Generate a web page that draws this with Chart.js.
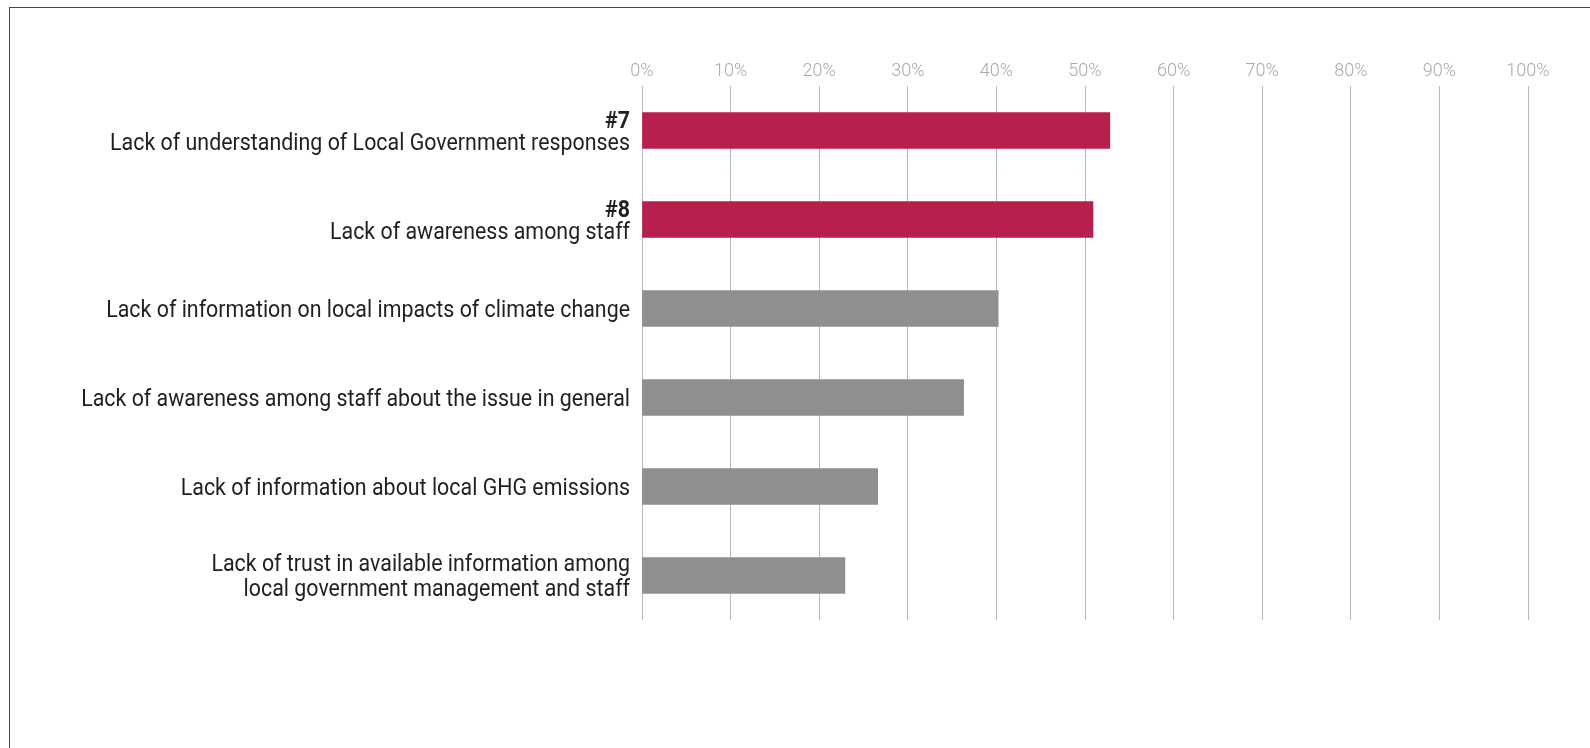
<!DOCTYPE html>
<html>
<head>
<meta charset="utf-8">
<script src="https://cdn.jsdelivr.net/npm/chart.js@4.4.1/dist/chart.umd.min.js"></script>
<style>
  html, body { margin: 0; padding: 0; background: #fff; overflow: hidden; }
  #wrap { position: relative; width: 1590px; height: 748px; }
  #frame { position: absolute; left: 9px; top: 7px; width: 1700px; height: 900px;
           border-left: 1.5px solid #444; border-top: 1.5px solid #444; }
  #chart { position: absolute; left: 0; top: 0; }
</style>
</head>
<body>
<div id="wrap">
  <div id="frame"></div>
  <canvas id="chart" width="1590" height="748"></canvas>
</div>
<script>
var categories = [
    ['Lack of understanding of Local Government responses'],
    ['Lack of awareness among staff'],
    ['Lack of information on local impacts of climate change'],
    ['Lack of awareness among staff about the issue in general'],
    ['Lack of information about local GHG emissions'],
    ['Lack of trust in available information among', 'local government management and staff']
];
var ranks = ['#7', '#8', '', '', '', ''];
var values = [52.8, 50.9, 40.2, 36.3, 26.6, 22.9];
var highlighted = [true, true, false, false, false, false];

var RED = '#b71f4c';
var GREY = '#8f8f8f';
var FONT = 'Roboto, "Liberation Sans Narrow", sans-serif';

// y labels drawn by hand: the rank line is bold and the text is a bit condensed
var labelPlugin = {
    id: 'labels',
    afterDraw: function(chart) {
        var ctx = chart.ctx;
        var yScale = chart.scales.y;
        var x = chart.chartArea.left - 12;
        var squeeze = 0.93;
        ctx.save();
        ctx.textAlign = 'right';
        ctx.textBaseline = 'middle';
        ctx.fillStyle = '#231f20';
        categories.forEach(function(lines, i) {
            var all = [];
            if (ranks[i]) all.push({ text: ranks[i], bold: true, gap: 0 });
            lines.forEach(function(l, k) {
                all.push({ text: l, bold: false, gap: (k === 0 && ranks[i]) ? 22 : 25 });
            });
            all[0].gap = 0;
            var total = 0;
            all.forEach(function(line) { total += line.gap; });
            var y = yScale.getPixelForValue(i) + 2.5 - total / 2;
            all.forEach(function(line) {
                y += line.gap;
                ctx.font = (line.bold ? 'bold ' : '') + '23px ' + FONT;
                ctx.save();
                ctx.translate(x, y);
                ctx.scale(squeeze, 1);
                ctx.fillText(line.text, 0, 0);
                ctx.restore();
            });
        });
        ctx.restore();
    }
};

var chart = new Chart(document.getElementById('chart').getContext('2d'), {
    type: 'bar',
    data: {
        labels: categories.map(function(c, i) { return i; }),
        datasets: [{
            data: values,
            backgroundColor: highlighted.map(function(h) { return h ? RED : GREY; }),
            barThickness: 36,
            borderWidth: 0
        }]
    },
    options: {
        indexAxis: 'y',
        responsive: false,
        animation: false,
        layout: { padding: { left: 642, right: 62, top: 0, bottom: 128 } },
        plugins: { legend: { display: false }, tooltip: { enabled: false } },
        scales: {
            x: {
                position: 'top',
                min: 0,
                max: 100,
                afterFit: function(scale) { scale.height = 86; },
                ticks: {
                    stepSize: 10,
                    padding: 4,
                    color: '#aaaaaa',
                    font: { family: FONT, size: 18, weight: '300' },
                    callback: function(v) { return v + '%'; }
                },
                grid: { color: '#b8b8b8', lineWidth: 1, drawTicks: false },
                border: { display: false }
            },
            y: {
                display: false
            }
        }
    },
    plugins: [labelPlugin]
});
</script>
</body>
</html>
